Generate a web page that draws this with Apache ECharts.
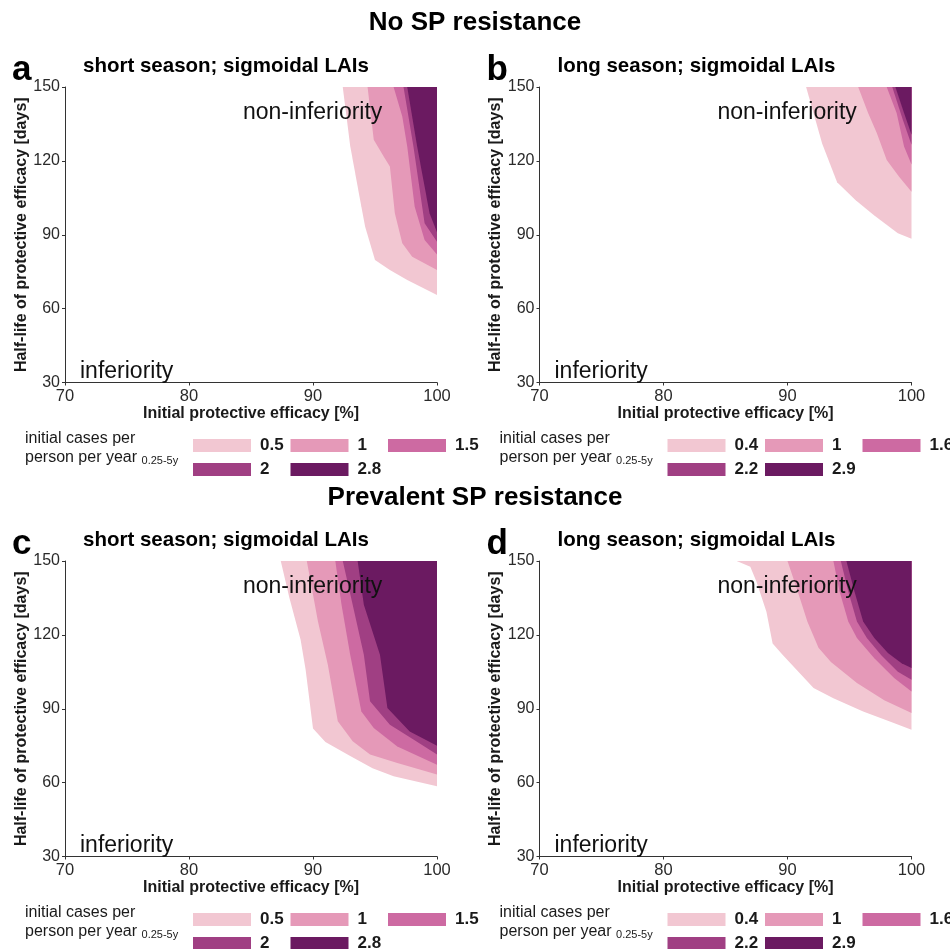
<!DOCTYPE html>
<html>
<head>
<meta charset="utf-8">
<script src="https://cdn.jsdelivr.net/npm/echarts@6/dist/echarts.min.js"></script>
<style>
  html, body { margin: 0; padding: 0; background: #fff; }
  #main { width: 950px; height: 949px; }
</style>
</head>
<body>
<div id="main"></div>
<script>
// contour levels (initial cases per person per year, 0.25-5y)
const levelsShort = ['0.5', '1', '1.5', '2', '2.8']
const levelsLong = ['0.4', '1', '1.6', '2.2', '2.9']

// lower-left boundary of each filled level: [initial efficacy %, half-life days]
// a: no SP resistance, short season
const a05 = [[92.4, 150], [93.0, 126], [93.9, 101.4], [94.2, 93.3], [95.0, 79.7], [96.2, 75.7], [97.6, 71.6], [100, 65.5]]
const a1 = [[94.4, 150], [94.9, 128.6], [95.7, 121.8], [96.2, 117.7], [96.6, 98.7], [97.2, 86.5], [98.0, 81.1], [100, 75.7]]
const a15 = [[96.5, 150], [97.2, 138], [97.6, 125.8], [98.2, 101.4], [99.0, 87.9], [100, 82]]
const a2 = [[97.3, 150], [98.1, 125.8], [99.0, 94.7], [100, 87.2]]
const a28 = [[97.6, 150], [98.4, 125.8], [99.4, 98.7], [100, 91]]

// b: no SP resistance, long season
const b04 = [[91.5, 150], [92.8, 127], [94.0, 111.3], [95.5, 104], [97.0, 97.8], [98.9, 90.6], [100, 88.4]]
const b1 = [[95.7, 150], [96.5, 139.4], [97.2, 131.3], [98.0, 120.4], [99.0, 113.6], [100, 107.5]]
const b16 = [[98.0, 150], [98.8, 139.4], [99.4, 125.8], [100, 118.5]]
const b22 = [[98.45, 150], [99.3, 136.7], [100, 126.5]]
const b29 = [[98.7, 150], [99.4, 139.4], [100, 130.6]]

// c: prevalent SP resistance, short season
const c05 = [[87.4, 150], [88.1, 135], [89.0, 118], [89.4, 106], [90.0, 82], [91.0, 76.5], [93.0, 70.8], [94.8, 65.8], [96.5, 62.6], [100, 58.5]]
const c1 = [[89.5, 150], [90.4, 125.4], [91.2, 107.8], [92.0, 84.9], [93.2, 76.8], [94.6, 71.4], [96.8, 68], [100, 63.3]]
const c15 = [[91.8, 150], [92.3, 132.2], [93.0, 111.9], [93.9, 88.9], [94.9, 82.2], [96.8, 74.7], [100, 67.3]]
const c2 = [[92.4, 150], [93.2, 132.2], [94.1, 111.9], [94.6, 93], [96.2, 83.5], [98.1, 77.5], [100, 71.4]]
const c28 = [[93.6, 150], [94.1, 132.2], [95.4, 111.9], [96.0, 90.3], [97.8, 80.8], [100, 75]]

// d: prevalent SP resistance, long season
const d04 = [[85.9, 150], [87.0, 147.7], [87.5, 141.6], [88.3, 129.4], [88.8, 116.5], [89.6, 111.9], [92.1, 98.4], [93.7, 94.3], [96.1, 88.9], [98.2, 84.9], [100, 81.5]]
const d1 = [[90.0, 150], [90.8, 138], [91.6, 125.4], [92.5, 114.8], [93.5, 109], [95.6, 100.5], [97.8, 93.5], [100, 88.3]]
const d16 = [[93.7, 150], [94.2, 137.6], [94.9, 125.4], [95.6, 118.7], [97.0, 110.5], [98.6, 102.5], [100, 97]]
const d22 = [[94.3, 150], [94.9, 137.6], [95.6, 125.4], [96.4, 118.7], [97.6, 111.5], [98.9, 105], [100, 101.8]]
const d29 = [[94.75, 150], [95.4, 137.6], [96.1, 125.4], [97.0, 118.7], [98.1, 112.6], [99.2, 108.5], [100, 106.5]]

const xTicks = [70, 80, 90, 100]
const yTicks = [30, 60, 90, 120, 150]

const colors = ['#f2c7d2', '#e599b8', '#cd6aa2', '#a03f83', '#6b1a61']
const font = '"Liberation Sans", Arial, Helvetica, sans-serif'
const ink = '#1a1a1a'

const panels = [
  { letter: 'a', sub: 'short season; sigmoidal LAIs', dx: 0, dy: 0, levels: levelsShort, bounds: [a05, a1, a15, a2, a28] },
  { letter: 'b', sub: 'long season; sigmoidal LAIs', dx: 474.5, dy: 0, levels: levelsLong, bounds: [b04, b1, b16, b22, b29] },
  { letter: 'c', sub: 'short season; sigmoidal LAIs', dx: 0, dy: 474, levels: levelsShort, bounds: [c05, c1, c15, c2, c28] },
  { letter: 'd', sub: 'long season; sigmoidal LAIs', dx: 474.5, dy: 474, levels: levelsLong, bounds: [d04, d1, d16, d22, d29] },
]

// legend slot (column, row) for each level, 3 columns x 2 rows
const legendSlots = [[0, 0], [1, 0], [2, 0], [0, 1], [1, 1]]

const grid = []
const xAxis = []
const yAxis = []
const series = []
const legend = []
const graphic = [
  { type: 'text', left: 'center', top: 10, style: { text: 'No SP resistance', font: 'bold 26px ' + font, fill: '#000' } },
  { type: 'text', left: 'center', top: 485, style: { text: 'Prevalent SP resistance', font: 'bold 26px ' + font, fill: '#000' } },
]

panels.forEach((p, i) => {
  grid.push({ left: 65 + p.dx, top: 87 + p.dy, width: 372, height: 295.5 })
  xAxis.push({
    gridIndex: i, type: 'value', min: 70, max: 100, interval: 10,
    name: 'Initial protective efficacy [%]', nameLocation: 'middle', nameGap: 20,
    nameTextStyle: { fontFamily: font, fontWeight: 'bold', fontSize: 16, color: ink },
    axisLine: { lineStyle: { color: '#333', width: 1 } },
    axisTick: { show: true, length: 3, lineStyle: { color: '#333' } },
    axisLabel: { fontFamily: font, fontSize: 16.5, color: '#2a2a2a', margin: 5,
      formatter: (v) => (xTicks.includes(v) ? String(v) : '') },
    splitLine: { show: false },
  })
  yAxis.push({
    gridIndex: i, type: 'value', min: 30, max: 150, interval: 30,
    name: 'Half-life of protective efficacy [days]', nameLocation: 'middle', nameGap: 32,
    nameTextStyle: { fontFamily: font, fontWeight: 'bold', fontSize: 16, color: ink },
    axisLine: { show: true, lineStyle: { color: '#333', width: 1 } },
    axisTick: { show: true, length: 3, lineStyle: { color: '#333' } },
    axisLabel: { fontFamily: font, fontSize: 16, color: '#2a2a2a', margin: 5,
      formatter: (v) => (yTicks.includes(v) ? String(v) : '') },
    splitLine: { show: false },
  })

  p.bounds.forEach((b, j) => {
    series.push({
      type: 'line', name: p.levels[j], xAxisIndex: i, yAxisIndex: i,
      data: b, symbol: 'none', silent: true, animation: false,
      lineStyle: { width: 0, color: colors[j] },
      itemStyle: { color: colors[j] },
      areaStyle: { origin: 'end', color: colors[j], opacity: 1 },
    })
  })

  p.levels.forEach((name, j) => {
    const [col, row] = legendSlots[j]
    legend.push({
      left: 193 + p.dx + col * 97.5, top: 437 + p.dy + row * 24, padding: 0,
      itemWidth: 58, itemHeight: 13, icon: 'rect', selectedMode: false,
      data: [name],
      textStyle: { fontFamily: font, fontSize: 17, fontWeight: 'bold', color: ink, lineHeight: 14, padding: [0, 0, 0, 4] },
    })
  })

  graphic.push(
    { type: 'text', left: 12 + p.dx, top: 53 + p.dy, style: { text: p.letter, font: 'bold 35px ' + font, fill: '#000' } },
    { type: 'text', left: 83 + p.dx, top: 56 + p.dy, style: { text: p.sub, font: 'bold 20.5px ' + font, fill: '#000' } },
    { type: 'text', left: 243 + p.dx, top: 101 + p.dy, z: 100, style: { text: 'non-inferiority', font: '23px ' + font, fill: '#111' } },
    { type: 'text', left: 80 + p.dx, top: 360 + p.dy, z: 100, style: { text: 'inferiority', font: '23px ' + font, fill: '#111' } },
    {
      type: 'text', left: 25 + p.dx, top: 429 + p.dy,
      style: {
        text: 'initial cases per\nperson per year {s|0.25-5y}',
        font: '16px ' + font, fill: ink, lineHeight: 19,
        rich: { s: { fontSize: 11, fontFamily: font, fill: ink, padding: [6, 0, 0, 0] } },
      },
    }
  )
})

const chart = echarts.init(document.getElementById('main'))
chart.setOption({
  animation: false,
  backgroundColor: '#fff',
  grid, xAxis, yAxis, series, legend, graphic,
})
</script>
</body>
</html>
